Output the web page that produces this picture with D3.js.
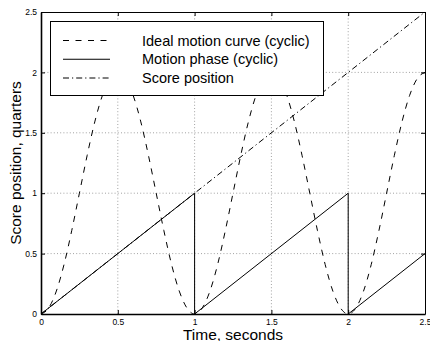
<!DOCTYPE html>
<html>
<head>
  <meta charset="utf-8" />
  <title>Score position</title>
  <script src="https://d3js.org/d3.v7.min.js"></script>
  <style>
    body { margin: 0; background: #fff; }
    svg { display: block; }
    .axis text {
      fill: #000;
      font-family: "Liberation Sans", Arial, Helvetica, sans-serif;
      font-size: 8.5px;
    }
    .grid line {
      stroke: #8a8a8a;
      stroke-width: 0.8;
      stroke-dasharray: 1,2.2;
    }
    .label, .legend text {
      font-family: "Liberation Sans", Arial, Helvetica, sans-serif;
      fill: #000;
    }
  </style>
</head>
<body>
  <div id="chart"></div>
  <script>
    // ---- data ----
    var time = [0, 0.05, 0.1, 0.15, 0.2, 0.25, 0.3, 0.35, 0.4, 0.45, 0.5,
      0.55, 0.6, 0.65, 0.7, 0.75, 0.8, 0.85, 0.9, 0.95, 1,
      1.05, 1.1, 1.15, 1.2, 1.25, 1.3, 1.35, 1.4, 1.45, 1.5,
      1.55, 1.6, 1.65, 1.7, 1.75, 1.8, 1.85, 1.9, 1.95, 2,
      2.05, 2.1, 2.15, 2.2, 2.25, 2.3, 2.35, 2.4, 2.45, 2.5];
    // ideal motion curve (cyclic), dashed
    var idealMotion = [0, 0.05, 0.19, 0.41, 0.69, 1.00, 1.31, 1.59, 1.81, 1.95, 2.00,
      1.95, 1.81, 1.59, 1.31, 1.00, 0.69, 0.41, 0.19, 0.05, 0,
      0.05, 0.19, 0.41, 0.69, 1.00, 1.31, 1.59, 1.81, 1.95, 2.00,
      1.95, 1.81, 1.59, 1.31, 1.00, 0.69, 0.41, 0.19, 0.05, 0,
      0.05, 0.19, 0.41, 0.69, 1.00, 1.31, 1.59, 1.81, 1.95, 2.00];
    // motion phase (cyclic), solid sawtooth
    var phaseT = [0, 1, 1, 2, 2, 2.5];
    var phaseV = [0, 1, 0, 1, 0, 0.5];
    // score position, dash-dot
    var scoreT = [0, 2.5];
    var scoreV = [0, 2.5];

    var xTicks = [0, 0.5, 1, 1.5, 2, 2.5];
    var yTicks = [0, 0.5, 1, 1.5, 2, 2.5];
    var legendLabels = ["Ideal motion curve (cyclic)", "Motion phase (cyclic)", "Score position"];

    var W = 430, H = 341;
    var plotL = 41, plotR = 425, plotT = 12, plotB = 314;

    var svg = d3.select("#chart").append("svg")
      .attr("width", W)
      .attr("height", H);

    var x = d3.scaleLinear().domain([0, 2.5]).range([plotL, plotR]);
    var y = d3.scaleLinear().domain([0, 2.5]).range([plotB, plotT]);

    // grid (dotted)
    var grid = svg.append("g").attr("class", "grid");
    grid.selectAll(".gx")
      .data(xTicks.slice(1, -1))
      .enter().append("line")
      .attr("x1", function (d) { return x(d); })
      .attr("x2", function (d) { return x(d); })
      .attr("y1", plotT)
      .attr("y2", plotB);
    grid.selectAll(".gy")
      .data(yTicks.slice(1, -1))
      .enter().append("line")
      .attr("y1", function (d) { return y(d); })
      .attr("y2", function (d) { return y(d); })
      .attr("x1", plotL)
      .attr("x2", plotR);

    var line = d3.line()
      .x(function (d) { return x(d[0]); })
      .y(function (d) { return y(d[1]); });

    var series = [
      { pts: d3.zip(scoreT, scoreV), dash: "6,3,1.2,3", curve: d3.curveLinear },
      { pts: d3.zip(time, idealMotion), dash: "6,6.5", curve: d3.curveMonotoneX },
      { pts: d3.zip(phaseT, phaseV), dash: null, curve: d3.curveLinear }
    ];

    series.forEach(function (s) {
      svg.append("path")
        .datum(s.pts)
        .attr("fill", "none")
        .attr("stroke", "#000")
        .attr("stroke-width", 1)
        .attr("stroke-dasharray", s.dash)
        .attr("d", line.curve(s.curve));
    });

    // axes, ticks pointing inward like matlab
    var fmt = function (d) { return d3.format("")(d); };
    svg.append("g")
      .attr("class", "axis")
      .attr("transform", "translate(0," + plotB + ")")
      .call(d3.axisBottom(x).tickValues(xTicks).tickFormat(fmt)
        .tickSizeInner(-4).tickSizeOuter(0).tickPadding(4.5))
      .select(".domain").attr("stroke-width", 1.6);
    svg.append("g")
      .attr("class", "axis")
      .attr("transform", "translate(" + plotL + ",0)")
      .call(d3.axisLeft(y).tickValues(yTicks).tickFormat(fmt)
        .tickSizeInner(-4).tickSizeOuter(0).tickPadding(4))
      .select(".domain").attr("stroke-width", 1.6);
    svg.append("g")
      .attr("class", "axis")
      .attr("transform", "translate(0," + plotT + ")")
      .call(d3.axisTop(x).tickValues(xTicks).tickFormat("")
        .tickSizeInner(-4).tickSizeOuter(0));
    svg.append("g")
      .attr("class", "axis")
      .attr("transform", "translate(" + plotR + ",0)")
      .call(d3.axisRight(y).tickValues(yTicks).tickFormat("")
        .tickSizeInner(-4).tickSizeOuter(0));

    // axis labels
    svg.append("text")
      .attr("class", "label")
      .attr("x", (plotL + plotR) / 2)
      .attr("y", 339.5)
      .attr("text-anchor", "middle")
      .style("font-size", "15.5px")
      .text("Time, seconds");
    svg.append("text")
      .attr("class", "label")
      .attr("transform", "translate(21," + (plotT + plotB) / 2 + ") rotate(-90)")
      .attr("text-anchor", "middle")
      .style("font-size", "15.5px")
      .text("Score position, quarters");

    // legend
    var legend = svg.append("g").attr("class", "legend");
    legend.append("rect")
      .attr("x", 50.5)
      .attr("y", 21.5)
      .attr("width", 273)
      .attr("height", 74)
      .attr("fill", "#fff")
      .attr("stroke", "#000")
      .attr("stroke-width", 1);

    var rowY = d3.scalePoint().domain(legendLabels).range([40.5, 78]);
    legendLabels.forEach(function (lab, i) {
      legend.append("line")
        .attr("x1", 63).attr("x2", 110)
        .attr("y1", rowY(lab)).attr("y2", rowY(lab))
        .attr("stroke", "#000")
        .attr("stroke-width", 1)
        .attr("stroke-dasharray", series[[1, 2, 0][i]].dash);
      legend.append("text")
        .attr("x", 142)
        .attr("y", rowY(lab))
        .attr("dy", "0.36em")
        .style("font-size", "14.5px")
        .text(lab);
    });
  </script>
</body>
</html>
